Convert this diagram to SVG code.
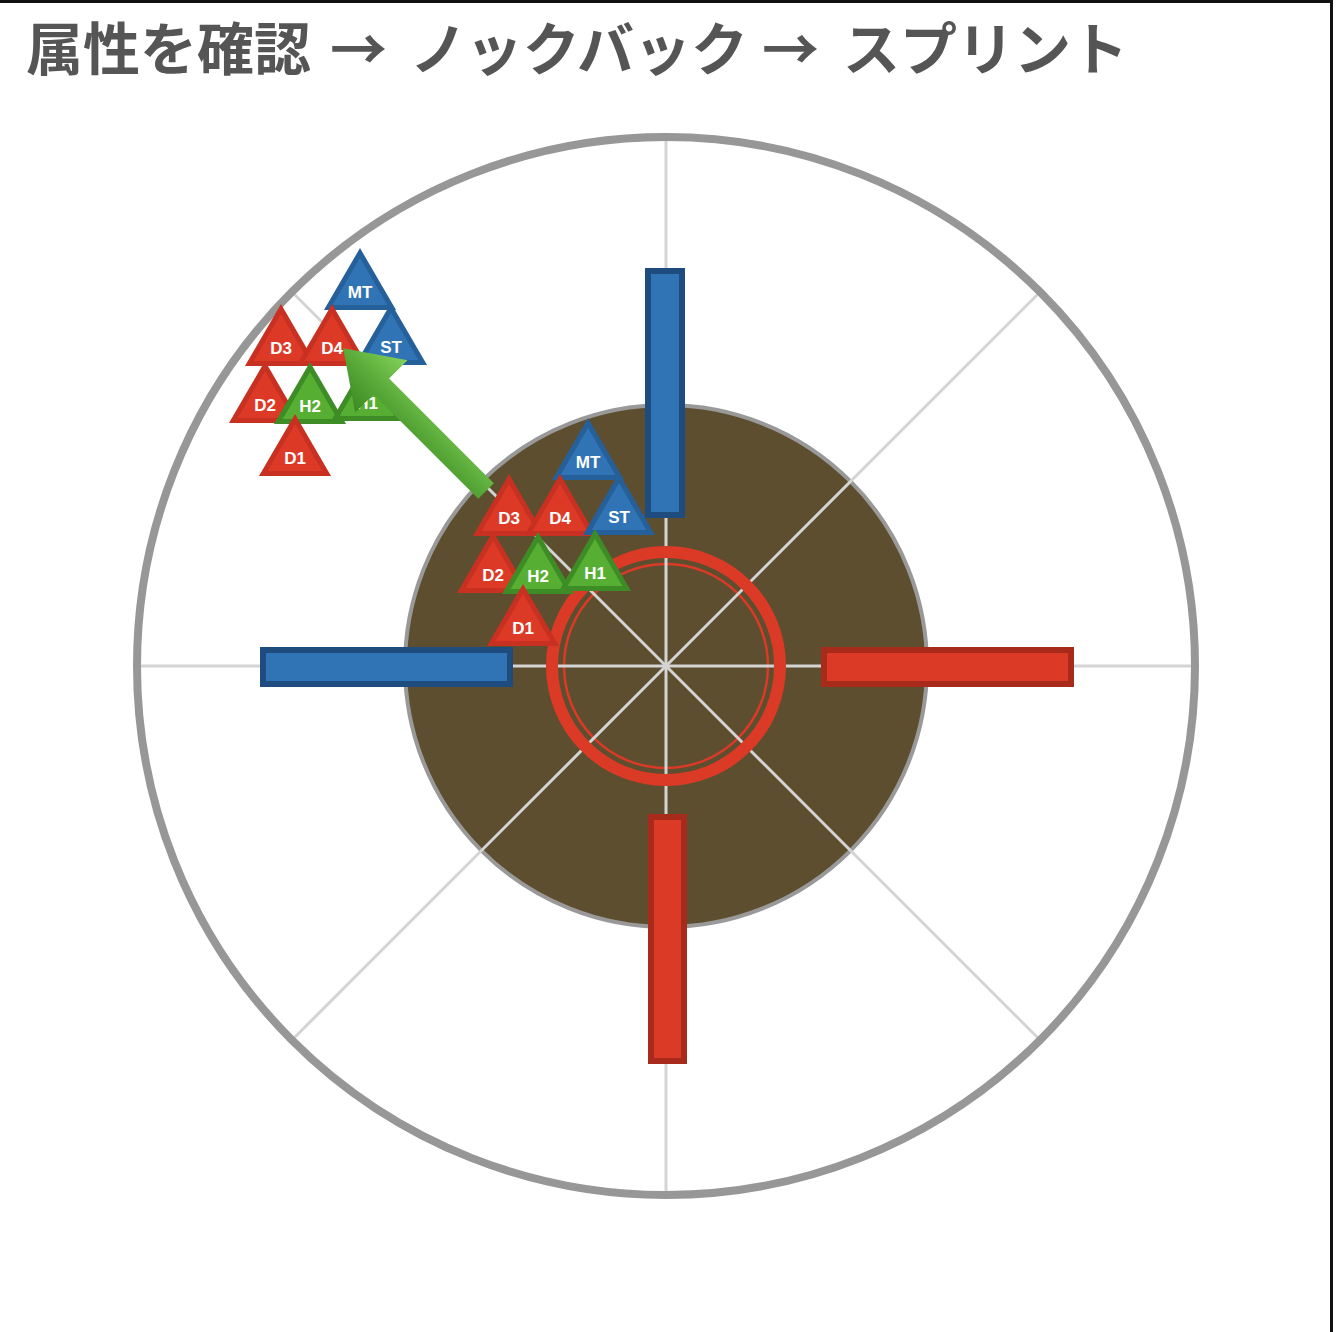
<svg xmlns="http://www.w3.org/2000/svg" xmlns:xlink="http://www.w3.org/1999/xlink" width="1336" height="1332" viewBox="0 0 1336 1332">
<style>
.title{font-family:"Noto Sans CJK JP","Noto Sans CJK SC",sans-serif;font-weight:700;font-size:57px;fill:#555555}
.lbl{font-family:"Liberation Sans",Arial,sans-serif;font-weight:700;font-size:17px;fill:#ffffff;text-anchor:middle}
.red{fill:#dc3a26;stroke:#c83121;stroke-width:5;stroke-linejoin:miter}
.blue{fill:#3174b5;stroke:#26609a;stroke-width:5;stroke-linejoin:miter}
.green{fill:#56ae33;stroke:#3e8c25;stroke-width:5;stroke-linejoin:miter}
.radial{stroke:#d4d4d4;stroke-width:3;fill:none}
.rbar{fill:#db3a26;stroke:#a82a1a;stroke-width:6}
.bbar{fill:#3174b5;stroke:#1f4c7e;stroke-width:6}
</style>
<defs>
<polygon id="tri" points="0,-39 -31.7,15.5 31.7,15.5"/>
<linearGradient id="arrowGrad" gradientUnits="userSpaceOnUse" x1="0" y1="-37" x2="0" y2="37">
<stop offset="0" stop-color="#3a8a23"/>
<stop offset="0.5" stop-color="#5aab3a"/>
<stop offset="1" stop-color="#84d25a"/>
</linearGradient>
</defs>
<rect x="0" y="0" width="1336" height="1332" fill="#ffffff"/>
<line x1="0" y1="1.5" x2="1333" y2="1.5" stroke="#111111" stroke-width="3"/>
<line x1="1331.5" y1="0" x2="1331.5" y2="1332" stroke="#111111" stroke-width="3"/>

<text class="title" y="70"><tspan x="26">属性を確認</tspan><tspan x="330">→</tspan><tspan x="410">ノックバック</tspan><tspan x="762">→</tspan><tspan x="843">スプリント</tspan></text>

<g id="arena">
<circle cx="666" cy="666" r="529" fill="#ffffff"/>
<circle cx="666" cy="666" r="261" fill="#5d4e2f" stroke="#999999" stroke-width="4"/>
<circle cx="666" cy="666" r="102" fill="none" stroke="#db3a26" stroke-width="2.5"/>
<g class="radial">
<line x1="666" y1="666" x2="666" y2="137"/>
<line x1="666" y1="666" x2="666" y2="1195"/>
<line x1="666" y1="666" x2="137" y2="666"/>
<line x1="666" y1="666" x2="1195" y2="666"/>
<line x1="666" y1="666" x2="292" y2="292"/>
<line x1="666" y1="666" x2="1040" y2="292"/>
<line x1="666" y1="666" x2="292" y2="1040"/>
<line x1="666" y1="666" x2="1040" y2="1040"/>
</g>
<circle cx="666" cy="666" r="114" fill="none" stroke="#db3a26" stroke-width="12"/>
<circle cx="666" cy="666" r="529" fill="none" stroke="#979797" stroke-width="8"/>
</g>

<g id="bar-north"><rect class="bbar" x="648" y="271" width="34" height="244"/></g>
<g id="bar-west"><rect class="bbar" x="263" y="650" width="247" height="34"/></g>
<g id="bar-east"><rect class="rbar" x="824" y="650" width="247" height="34"/></g>
<g id="bar-south"><rect class="rbar" x="651" y="817" width="33" height="244"/></g>

<g id="party-center">
<g id="c-MT" transform="translate(588,462)"><use xlink:href="#tri" class="blue"/><text class="lbl" y="6">MT</text></g>
<g id="c-D3" transform="translate(509,518)"><use xlink:href="#tri" class="red"/><text class="lbl" y="6">D3</text></g>
<g id="c-D4" transform="translate(560,518)"><use xlink:href="#tri" class="red"/><text class="lbl" y="6">D4</text></g>
<g id="c-ST" transform="translate(619,517)"><use xlink:href="#tri" class="blue"/><text class="lbl" y="6">ST</text></g>
<g id="c-D2" transform="translate(493,575)"><use xlink:href="#tri" class="red"/><text class="lbl" y="6">D2</text></g>
<g id="c-H2" transform="translate(538,576)"><use xlink:href="#tri" class="green"/><text class="lbl" y="6">H2</text></g>
<g id="c-H1" transform="translate(595,573)"><use xlink:href="#tri" class="green"/><text class="lbl" y="6">H1</text></g>
<g id="c-D1" transform="translate(523,628)"><use xlink:href="#tri" class="red"/><text class="lbl" y="6">D1</text></g>
</g>

<g id="party-knocked">
<g id="k-MT" transform="translate(360,292)"><use xlink:href="#tri" class="blue"/><text class="lbl" y="6">MT</text></g>
<g id="k-D3" transform="translate(281,348)"><use xlink:href="#tri" class="red"/><text class="lbl" y="6">D3</text></g>
<g id="k-D4" transform="translate(332,348)"><use xlink:href="#tri" class="red"/><text class="lbl" y="6">D4</text></g>
<g id="k-ST" transform="translate(391,347)"><use xlink:href="#tri" class="blue"/><text class="lbl" y="6">ST</text></g>
<g id="k-D2" transform="translate(265,405)"><use xlink:href="#tri" class="red"/><text class="lbl" y="6">D2</text></g>
<g id="k-H2" transform="translate(310,406)"><use xlink:href="#tri" class="green"/><text class="lbl" y="6">H2</text></g>
<g id="k-H1" transform="translate(367,403)"><use xlink:href="#tri" class="green"/><text class="lbl" y="6">H1</text></g>
<g id="k-D1" transform="translate(295,458)"><use xlink:href="#tri" class="red"/><text class="lbl" y="6">D1</text></g>
</g>

<g id="connectors">
<g transform="translate(486,491) rotate(225)">
<polygon points="0,-11 148,-11 148,-37 202,0 148,37 148,11 0,11" fill="url(#arrowGrad)"/>
</g>
</g>
</svg>
